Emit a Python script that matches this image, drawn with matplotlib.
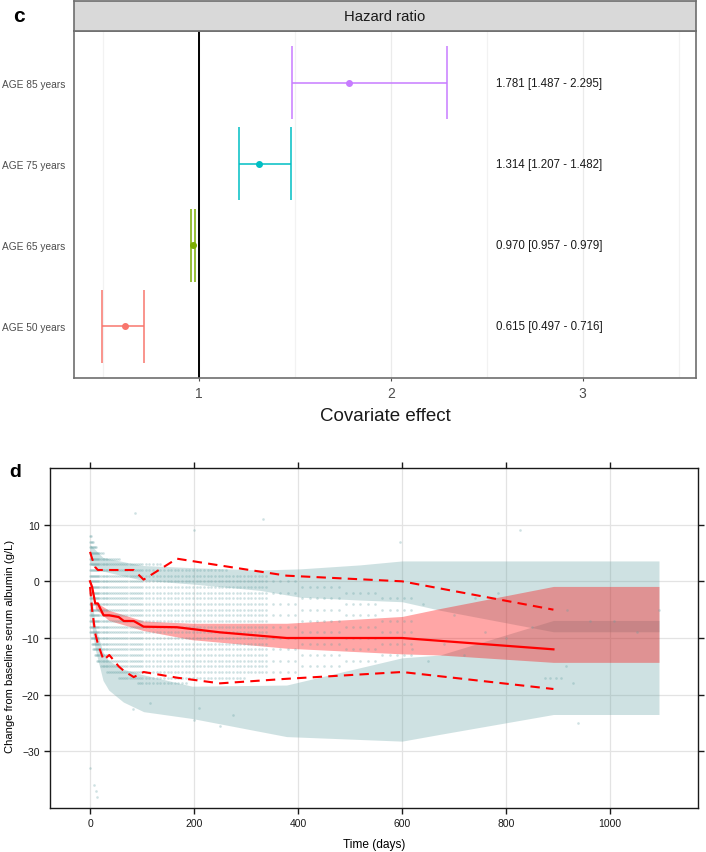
import matplotlib
matplotlib.use("Agg")
import matplotlib.pyplot as plt
import numpy as np

plt.rcParams['font.family'] = ['Liberation Sans', 'DejaVu Sans']

# ---------------- panel c : hazard ratios ----------------
hr_labels = ["AGE 50 years", "AGE 65 years", "AGE 75 years", "AGE 85 years"]
hr_est = [0.615, 0.970, 1.314, 1.781]
hr_lo = [0.497, 0.957, 1.207, 1.487]
hr_hi = [0.716, 0.979, 1.482, 2.295]
hr_colors = ["#F8766D", "#7CAE00", "#00BFC4", "#C77CFF"]
hr_xticks = [1, 2, 3]

# ---------------- panel d : VPC ----------------
# observed percentiles (bin midpoints)
obs_days = [0, 4, 10, 15, 26, 37, 55, 65, 84, 103, 167, 250, 378, 600, 891]
obs_p95 = [5.2, 4.0, 2.5, 2.0, 2.0, 2.0, 2.0, 2.0, 2.0, 0.3, 4.0, 2.8, 1.0, 0.0, -5.0]
obs_p50 = [0.0, -1.0, -3.9, -3.9, -6.0, -6.0, -6.3, -7.0, -7.0, -8.0, -8.1, -9.0, -10.0, -10.0, -12.0]
obs_p05 = [-1.0, -5.0, -9.2, -11.0, -13.9, -13.0, -15.0, -15.8, -16.9, -16.0, -17.0, -18.0, -17.2, -16.0, -19.0]

# simulated prediction intervals
up_days = [0, 25, 100, 200, 327, 404, 519, 600, 673, 891, 1094]
up_hi = [6.5, 4.2, 2.8, 2.4, 2.0, 2.2, 2.9, 3.6, 3.6, 3.6, 3.6]
up_lo = [3.0, 1.8, 0.2, -0.5, -1.6, -2.8, -3.3, -3.6, -5.1, -8.9, -8.9]

med_days = [10, 36, 103, 196, 378, 600, 673, 891, 1094]
med_hi = [-3.6, -5.1, -7.0, -7.4, -7.4, -6.2, -4.8, -0.9, -0.9]
med_lo = [-4.8, -6.9, -8.7, -10.3, -11.8, -12.8, -13.0, -14.3, -14.3]

lo_days = [0, 5, 10, 25, 36, 64, 103, 196, 378, 600, 673, 891, 1094]
lo_hi = [-1.0, -4.0, -8.0, -12.5, -14.0, -15.5, -16.5, -18.5, -18.3, -13.5, -13.0, -6.9, -6.9]
lo_lo = [-5.0, -9.0, -12.0, -17.5, -19.2, -21.3, -23.0, -24.2, -27.4, -28.2, -27.0, -23.5, -23.5]

# observations: visit days with observed integer-valued range and density step
sc_day = [0, 2, 4, 6, 8, 10, 12, 14, 16, 18, 21, 24, 27, 30, 33, 36, 40, 44, 48, 52,
          56, 60, 64, 68, 72, 76, 80, 84, 88, 92, 96, 100,
          107, 114, 121, 128, 135, 142, 149, 156, 163, 170, 177, 184, 191, 198, 205, 212,
          219, 226, 233, 240, 247, 254, 261, 268, 275, 282, 289, 296, 303, 310, 317, 324,
          331, 338,
          352, 366, 380, 394, 408, 422, 436, 450, 464, 478, 492, 506, 520, 534, 548, 562,
          576, 590, 604, 618]
sc_hi = [8, 8, 7, 7, 6, 6, 6, 5, 5, 5, 5, 5, 4, 4, 4, 4, 4, 4, 4, 4,
         4, 3, 3, 3, 3, 3, 3, 3, 3, 3, 3, 3,
         3, 3, 3, 3, 3, 2, 2, 2, 2, 2, 2, 2, 2, 2, 2, 2,
         2, 2, 2, 2, 2, 2, 2, 1, 1, 1, 1, 1, 1, 1, 1, 1,
         1, 1,
         1, 1, 1, 0, 0, 0, 0, 0, 0, 0, -1, -1, -1, -1, -2, -2,
         -2, -3, -3, -3]
sc_lo = [-9, -10, -11, -12, -12, -13, -13, -14, -14, -14, -15, -15, -15, -15, -16, -16, -16, -16, -16, -16,
         -17, -17, -17, -17, -17, -17, -17, -17, -17, -18, -18, -18,
         -18, -18, -18, -18, -18, -18, -18, -18, -18, -18, -18, -18, -17, -17, -17, -17,
         -17, -17, -17, -17, -17, -17, -17, -17, -17, -17, -17, -17, -16, -16, -16, -16,
         -16, -16,
         -16, -16, -16, -16, -15, -15, -15, -15, -15, -15, -14, -14, -14, -14, -14, -13,
         -13, -13, -13, -13]
sc_step = [1] * 66 + [2] * 20
extra_day = [0, 8, 12, 14, 83, 115, 199, 210, 250, 275, 87, 333, 199, 596, 827, 939,
             875, 885, 895, 905, 929, 915, 917, 962, 1007, 1052, 1094, 785, 640, 700,
             760, 680, 720, 650, 740, 800, 850, 620]
extra_val = [-33, -36, -37, -38, -22.5, -21.5, -24.5, -22.4, -25.6, -23.5, 12, 11, 9, 7, 9, -25,
             -17, -17, -17, -17, -18, -15, -5, -7, -7, -9, -5, -2, -4, -6,
             -9, -11, -13, -14, -3, -10, -8, -12]

d_xticks = [0, 200, 400, 600, 800, 1000]
d_yticks = [-30, -20, -10, 0, 10]

# ---------------- figure ----------------
fig = plt.figure(figsize=(7.06, 8.53), dpi=100)
W, H = 706, 853

def fa(l, t, r, b):
    return [l / W, 1 - b / H, (r - l) / W, (b - t) / H]

# ---- panel c
ax1 = fig.add_axes(fa(74, 32, 696, 379))
ax1.set_xlim(0.35, 3.59)
ax1.set_ylim(0.36, 4.64)
ax1.set_xticks(hr_xticks)
ax1.set_xticks([0.5, 1.5, 2.5, 3.5], minor=True)
ax1.grid(axis='x', which='major', color='#EBEBEB', lw=0.9)
ax1.grid(axis='x', which='minor', color='#F2F2F2', lw=0.9)
ax1.set_axisbelow(True)
ax1.axvline(1, color='black', lw=1.4, zorder=2)
ys = np.arange(1, len(hr_labels) + 1)
for y, e, lo, hi, c in zip(ys, hr_est, hr_lo, hr_hi, hr_colors):
    ax1.hlines(y, lo, hi, color=c, lw=1.1, zorder=3)
    ax1.vlines([lo, hi], y - 0.45, y + 0.45, color=c, lw=1.1, zorder=3)
    ax1.plot([e], [y], 'o', color=c, ms=4, zorder=4)
    ax1.text(2.55, y, f"{e:.3f} [{lo:.3f} - {hi:.3f}]", ha='left', va='center',
             fontsize=8.3, color='#1A1A1A')
ax1.set_yticks(ys)
ax1.set_yticklabels(hr_labels)
ax1.tick_params(axis='y', length=0, pad=6.5, labelsize=7.3, colors='#4D4D4D')
ax1.tick_params(axis='x', which='major', length=2.5, width=0.8, color='#4D4D4D',
                labelsize=10, labelcolor='#4D4D4D', pad=3)
ax1.tick_params(axis='x', which='minor', length=0)
for s in ax1.spines.values():
    s.set_color('#6E6E6E')
    s.set_linewidth(1.2)
fig.text(385 / W, 1 - 417 / H, "Covariate effect", ha='center', va='center', fontsize=13.5,
         color='#1A1A1A')

# strip
axs = fig.add_axes(fa(74, 2, 696, 32))
axs.set_xticks([]); axs.set_yticks([])
axs.set_facecolor('#D9D9D9')
for s in axs.spines.values():
    s.set_color('#6E6E6E')
    s.set_linewidth(1.2)
axs.text(0.5, 0.5, "Hazard ratio", ha='center', va='center', fontsize=10.7,
         color='#1A1A1A', transform=axs.transAxes)

fig.text(19 / W, 1 - 17 / H, "c", ha='center', va='center', fontsize=15, fontweight='bold')

# ---- panel d
ax2 = fig.add_axes(fa(50, 469, 698, 809))
ax2.set_xlim(-77, 1169)
ax2.set_ylim(-40, 20)
ax2.set_xticks(d_xticks)
ax2.set_yticks(d_yticks)
ax2.grid(color='#E3E3E3', lw=0.9)
ax2.set_axisbelow(True)

ax2.fill_between(up_days, up_lo, up_hi, color='#5F9EA0', alpha=0.3, lw=0, zorder=1)
ax2.fill_between(lo_days, lo_lo, lo_hi, color='#5F9EA0', alpha=0.3, lw=0, zorder=1)
ax2.fill_between(med_days, med_lo, med_hi, color='#FF0000', alpha=0.35, lw=0, zorder=1)

px, py = [], []
for d, lo, hi, st in zip(sc_day, sc_lo, sc_hi, sc_step):
    for v in range(lo, hi + 1, st):
        px.append(d)
        py.append(v)
ax2.scatter(px, py, s=3.5, color='#5F9EA0', alpha=0.3, lw=0, zorder=2)
ax2.scatter(extra_day, extra_val, s=3.5, color='#5F9EA0', alpha=0.3, lw=0, zorder=2)

ax2.plot(obs_days, obs_p50, color='#FF0000', lw=1.6, zorder=3)
ax2.plot(obs_days, obs_p95, color='#FF0000', lw=1.5, ls=(0, (4.5, 3)), zorder=3)
ax2.plot(obs_days, obs_p05, color='#FF0000', lw=1.5, ls=(0, (4.5, 3)), zorder=3)

ax2.tick_params(direction='out', top=True, right=True, labeltop=False, labelright=False,
                length=4.5, width=1, labelsize=7.5, pad=3, colors='#1A1A1A')
for s in ax2.spines.values():
    s.set_color('#1A1A1A')
    s.set_linewidth(1)

fig.text(374 / W, 1 - 845 / H, "Time (days)", ha='center', va='center', fontsize=8.6)
fig.text(10 / W, 1 - 646 / H, "Change from baseline serum albumin (g/L)", ha='center',
         va='center', rotation=90, fontsize=8.1)
fig.text(15 / W, 1 - 473 / H, "d", ha='center', va='center', fontsize=14, fontweight='bold')

fig.savefig("out.png", dpi=100)
